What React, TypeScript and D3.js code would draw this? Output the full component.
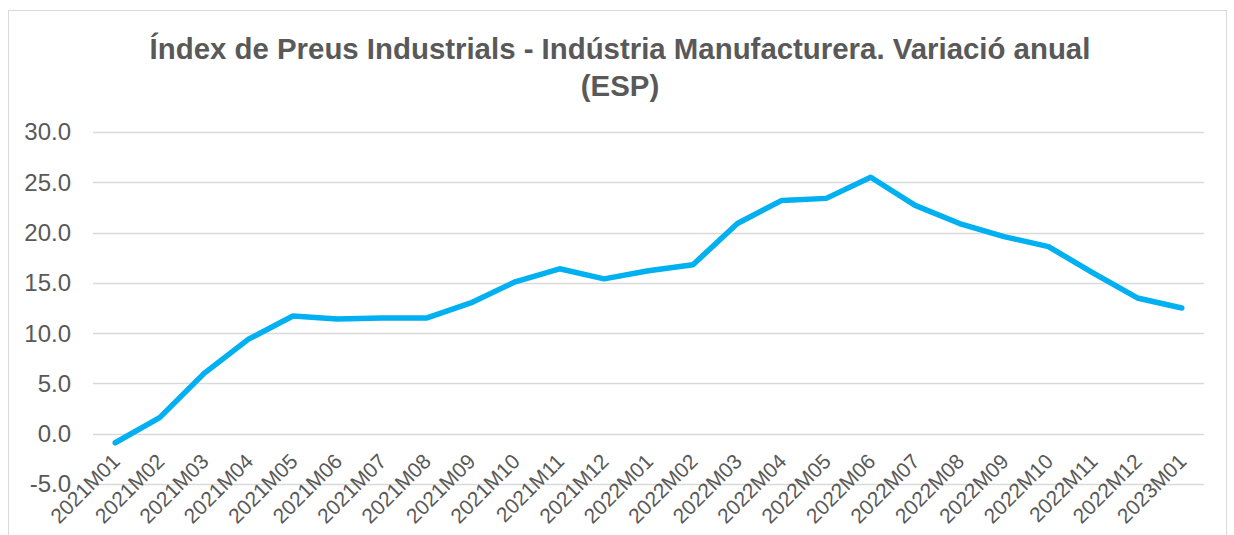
import React from "react";
import * as d3 from "d3";

const categories: string[] = [
  "2021M01", "2021M02", "2021M03", "2021M04", "2021M05", "2021M06",
  "2021M07", "2021M08", "2021M09", "2021M10", "2021M11", "2021M12",
  "2022M01", "2022M02", "2022M03", "2022M04", "2022M05", "2022M06",
  "2022M07", "2022M08", "2022M09", "2022M10", "2022M11", "2022M12",
  "2023M01",
];

const values: number[] = [
  -0.9, 1.6, 6.0, 9.4, 11.7, 11.4, 11.5, 11.5, 13.0, 15.1, 16.4, 15.4,
  16.2, 16.8, 20.9, 23.2, 23.4, 25.5, 22.7, 20.9, 19.6, 18.6, 16.0, 13.5,
  12.5,
];

const yTicks: number[] = [-5, 0, 5, 10, 15, 20, 25, 30];

const titleLines: string[] = [
  "Índex de Preus Industrials - Indústria Manufacturera. Variació anual",
  "(ESP)",
];

const W = 1234;
const H = 535;
const plotLeft = 93;
const plotRight = 1204;
const FONT = "'Liberation Sans', Arial, sans-serif";
const TEXT = "#595959";

const fmt = d3.formatLocale({
  decimal: ".",
  thousands: ",",
  grouping: [3],
  currency: ["", ""],
  minus: "-",
}).format(".1f");

export default function App() {
  const x = d3.scaleBand<string>().domain(categories).range([plotLeft, plotRight]);
  const y = d3.scaleLinear().domain([-5, 30]).range([484, 132]);
  const cx = (c: string) => (x(c) ?? 0) + x.bandwidth() / 2;

  const line = d3
    .line<number>()
    .x((_, i) => cx(categories[i]))
    .y((v) => y(v));

  return (
    <svg
      width={W}
      height={H}
      style={{ position: "absolute", left: 0, top: 0, background: "#fff" }}
      fontFamily={FONT}
    >
      <rect x={0} y={0} width={W} height={H} fill="#fff" />
      <rect x={8.5} y={10.5} width={1218} height={H + 20} fill="#fff" stroke="#D9D9D9" strokeWidth={1} />
      {titleLines.map((t, i) => (
        <text
          key={i}
          x={620}
          y={59 + i * 37}
          textAnchor="middle"
          fontSize={29.4}
          fontWeight="bold"
          fill={TEXT}
        >
          {t}
        </text>
      ))}
      {yTicks.map((t) => (
        <g key={t}>
          <line
            x1={plotLeft}
            x2={plotRight}
            y1={Math.round(y(t)) + 0.5}
            y2={Math.round(y(t)) + 0.5}
            stroke="#D9D9D9"
            strokeWidth={1.5}
          />
          <text
            x={71}
            y={y(t)}
            dy="0.35em"
            textAnchor="end"
            fontSize={24}
            fill={TEXT}
          >
            {fmt(t)}
          </text>
        </g>
      ))}
      <path
        d={line(values) ?? ""}
        fill="none"
        stroke="#00B0F0"
        strokeWidth={5.5}
        strokeLinejoin="round"
        strokeLinecap="round"
      />
      {categories.map((c) => (
        <text
          key={c}
          transform={`translate(${cx(c) + 6},${y(0) + 29}) rotate(-45)`}
          textAnchor="end"
          fontSize={21}
          fill={TEXT}
        >
          {c}
        </text>
      ))}
    </svg>
  );
}
